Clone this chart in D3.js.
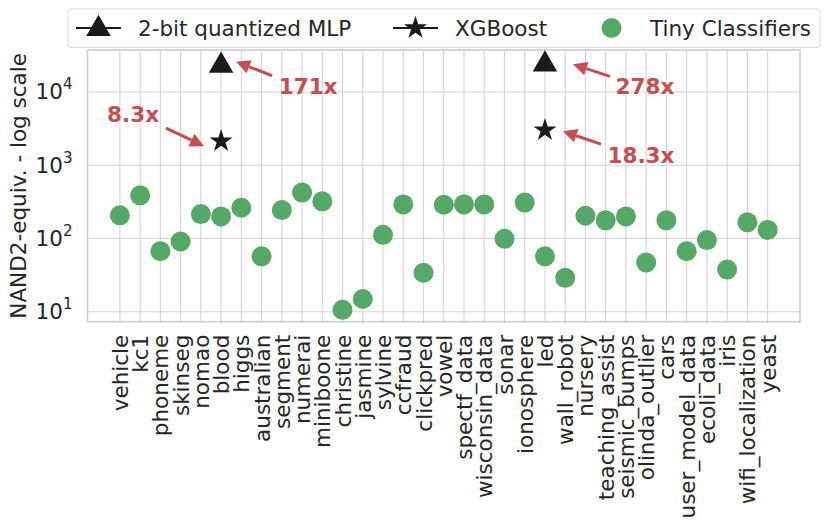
<!DOCTYPE html>
<html>
<head>
<meta charset="utf-8">
<script src="https://cdn.jsdelivr.net/npm/d3@7"></script>
<style>
  body { margin: 0; background: #fff; }
  text { font-family: "DejaVu Sans", sans-serif; fill: #262626; }
</style>
</head>
<body>
<div id="container"></div>
<script>
/* CONSTANTS AND GLOBALS */
const width = 830,
      height = 521,
      margin = {top: 50, bottom: 199.3, left: 87.5, right: 30};

const textSize = 21.5,
      green = "#55a868",
      red = "#c44e52",
      ink = "#1a1a1a",
      gridColor = "#d4d4d4";

/* DATA */
const datasets = ["vehicle", "kc1", "phoneme", "skinseg", "nomao", "blood", "higgs",
  "australian", "segment", "numerai", "miniboone", "christine", "jasmine", "sylvine",
  "ccfraud", "clickpred", "vowel", "spectf_data", "wisconsin_data", "sonar",
  "ionosphere", "led", "wall_robot", "nursery", "teaching_assist", "seismic_bumps",
  "olinda_outlier", "cars", "user_model_data", "ecoli_data", "iris",
  "wifi_localization", "yeast"];

const tinyClassifiers = [207, 388, 67, 91, 215, 200, 263, 57, 244, 423, 321, 10.6,
  14.9, 112, 292, 34, 289, 292, 292, 99, 309, 57, 29, 204, 177, 200, 47, 177, 67,
  95, 37.6, 166, 131];

const mlpPoints = [{name: "blood", value: 24300}, {name: "led", value: 25400}];
const xgbPoints = [{name: "blood", value: 2130}, {name: "led", value: 3010}];

// label, point it refers to, offsets (px) of the text centre and the arrow ends
const annotations = [
  {label: "171x", name: "blood", value: 24300, tx: 87, ty: 23, ax: 51, ay: 12, hx: 15, hy: -2},
  {label: "8.3x", name: "blood", value: 2130, tx: -88, ty: -27, ax: -55, ay: -13, hx: -17, hy: 5},
  {label: "278x", name: "led", value: 25400, tx: 100, ty: 24, ax: 65, ay: 14, hx: 28, hy: 2},
  {label: "18.3x", name: "led", value: 3010, tx: 96, ty: 25, ax: 56, ay: 14, hx: 18, hy: 1}
];

const yTicks = [1e1, 1e2, 1e3, 1e4];

/* SCALES */
const xScale = d3.scaleLinear()
  .domain([-1.6, datasets.length - 1 + 1.6])
  .range([margin.left, width - margin.right]);

const yScale = d3.scaleLog()
  .domain([Math.pow(10, 0.8634), Math.pow(10, 4.5735)])
  .range([height - margin.bottom, margin.top]);

const xPos = name => xScale(datasets.indexOf(name));

/* SVG */
const svg = d3.select("#container")
  .append("svg")
  .attr("width", width)
  .attr("height", height);

// grid
svg.append("g")
  .selectAll("line")
  .data(datasets)
  .join("line")
  .attr("x1", (d, i) => xScale(i))
  .attr("x2", (d, i) => xScale(i))
  .attr("y1", margin.top)
  .attr("y2", height - margin.bottom)
  .attr("stroke", gridColor)
  .attr("stroke-width", 1.1);

svg.append("g")
  .selectAll("line")
  .data(yTicks)
  .join("line")
  .attr("x1", margin.left)
  .attr("x2", width - margin.right)
  .attr("y1", d => yScale(d))
  .attr("y2", d => yScale(d))
  .attr("stroke", gridColor)
  .attr("stroke-width", 1.1);

// frame
svg.append("rect")
  .attr("x", margin.left)
  .attr("y", margin.top)
  .attr("width", width - margin.right - margin.left)
  .attr("height", height - margin.bottom - margin.top)
  .attr("fill", "none")
  .attr("stroke", "#cccccc")
  .attr("stroke-width", 1.6);

// x axis labels
const xAxis = d3.axisBottom(xScale)
  .tickValues(d3.range(datasets.length))
  .tickFormat(i => datasets[i])
  .tickSize(0)
  .tickPadding(0);

const gx = svg.append("g")
  .attr("transform", `translate(0, ${height - margin.bottom})`)
  .call(xAxis);
gx.select(".domain").remove();
gx.selectAll("text")
  .attr("font-size", textSize)
  .attr("font-family", "DejaVu Sans")
  .attr("fill", "#262626")
  .attr("transform", "translate(0, 13) rotate(-90)")
  .attr("x", 0)
  .attr("y", 0)
  .attr("dy", "0.35em")
  .attr("text-anchor", "end");

// y axis labels (10^n)
const yAxis = d3.axisLeft(yScale)
  .tickValues(yTicks)
  .tickSize(0)
  .tickPadding(0)
  .tickFormat("");

const gy = svg.append("g")
  .attr("transform", `translate(${margin.left}, 0)`)
  .call(yAxis);
gy.select(".domain").remove();
gy.selectAll(".tick").each(function(d) {
  const t = d3.select(this).append("text")
    .attr("x", -15)
    .attr("y", 7)
    .attr("text-anchor", "end")
    .attr("font-size", textSize)
    .attr("fill", "#262626");
  t.append("tspan").text("10");
  t.append("tspan")
    .attr("font-size", textSize * 0.7)
    .attr("dy", -10)
    .text(Math.round(Math.log10(d)));
});

// y axis title
svg.append("text")
  .attr("transform", `translate(26, ${(margin.top + height - margin.bottom) / 2}) rotate(-90)`)
  .attr("text-anchor", "middle")
  .attr("font-size", textSize)
  .text("NAND2-equiv. - log scale");

/* MARKS */
const triangle = d3.symbol().type(d3.symbolTriangle).size(260);
const star = d3.symbol().type(d3.symbolStar).size(165);

svg.append("g")
  .selectAll("circle")
  .data(tinyClassifiers)
  .join("circle")
  .attr("cx", (d, i) => xScale(i))
  .attr("cy", d => yScale(d))
  .attr("r", 10)
  .attr("fill", green);

svg.append("g")
  .selectAll("path")
  .data(mlpPoints)
  .join("path")
  .attr("d", triangle)
  .attr("transform", d => `translate(${xPos(d.name)}, ${yScale(d.value) + 2})`)
  .attr("fill", ink);

svg.append("g")
  .selectAll("path")
  .data(xgbPoints)
  .join("path")
  .attr("d", star)
  .attr("transform", d => `translate(${xPos(d.name)}, ${yScale(d.value)})`)
  .attr("fill", ink);

/* ANNOTATIONS */
const ann = svg.append("g")
  .selectAll("g")
  .data(annotations)
  .join("g")
  .attr("transform", d => `translate(${xPos(d.name)}, ${yScale(d.value)})`);

ann.append("text")
  .attr("x", d => d.tx)
  .attr("y", d => d.ty)
  .attr("dy", "0.36em")
  .attr("text-anchor", "middle")
  .attr("font-size", textSize)
  .attr("font-weight", "bold")
  .style("fill", red)
  .text(d => d.label);

ann.each(function(d) {
  const g = d3.select(this);
  const ang = Math.atan2(d.hy - d.ay, d.hx - d.ax);
  const headLen = 14, headW = 7;
  const bx = d.hx - headLen * Math.cos(ang), by = d.hy - headLen * Math.sin(ang);
  g.append("line")
    .attr("x1", d.ax).attr("y1", d.ay)
    .attr("x2", bx).attr("y2", by)
    .attr("stroke", red)
    .attr("stroke-width", 3);
  const px = -Math.sin(ang) * headW, py = Math.cos(ang) * headW;
  g.append("path")
    .attr("d", `M${d.hx},${d.hy}L${bx + px},${by + py}L${bx - px},${by - py}Z`)
    .attr("fill", red);
});

/* LEGEND */
const legend = svg.append("g");
legend.append("rect")
  .attr("x", 68).attr("y", 9)
  .attr("width", 752).attr("height", 38.5)
  .attr("rx", 3)
  .attr("fill", "#fff")
  .attr("stroke", "#d9d9d9")
  .attr("stroke-width", 1);

const legendItems = [
  {label: "2-bit quantized MLP", x: 76, symbol: "triangle", line: true},
  {label: "XGBoost", x: 393, symbol: "star", line: true},
  {label: "Tiny Classifiers", x: 589, symbol: "circle", line: false}
];

const li = legend.selectAll("g.item")
  .data(legendItems)
  .join("g")
  .attr("class", "item")
  .attr("transform", d => `translate(${d.x}, 28)`);

li.filter(d => d.line).append("line")
  .attr("x1", 0).attr("x2", 45)
  .attr("stroke", ink)
  .attr("stroke-width", 2);

li.filter(d => d.symbol === "triangle").append("path")
  .attr("d", triangle)
  .attr("transform", "translate(22.5, 1)")
  .attr("fill", ink);

li.filter(d => d.symbol === "star").append("path")
  .attr("d", star)
  .attr("transform", "translate(22.5, 0)")
  .attr("fill", ink);

li.filter(d => d.symbol === "circle").append("circle")
  .attr("cx", 22.5)
  .attr("r", 10)
  .attr("fill", green);

li.append("text")
  .attr("x", d => d.symbol === "circle" ? 61 : 62)
  .attr("dy", "0.35em")
  .attr("font-size", textSize)
  .text(d => d.label);
</script>
</body>
</html>
